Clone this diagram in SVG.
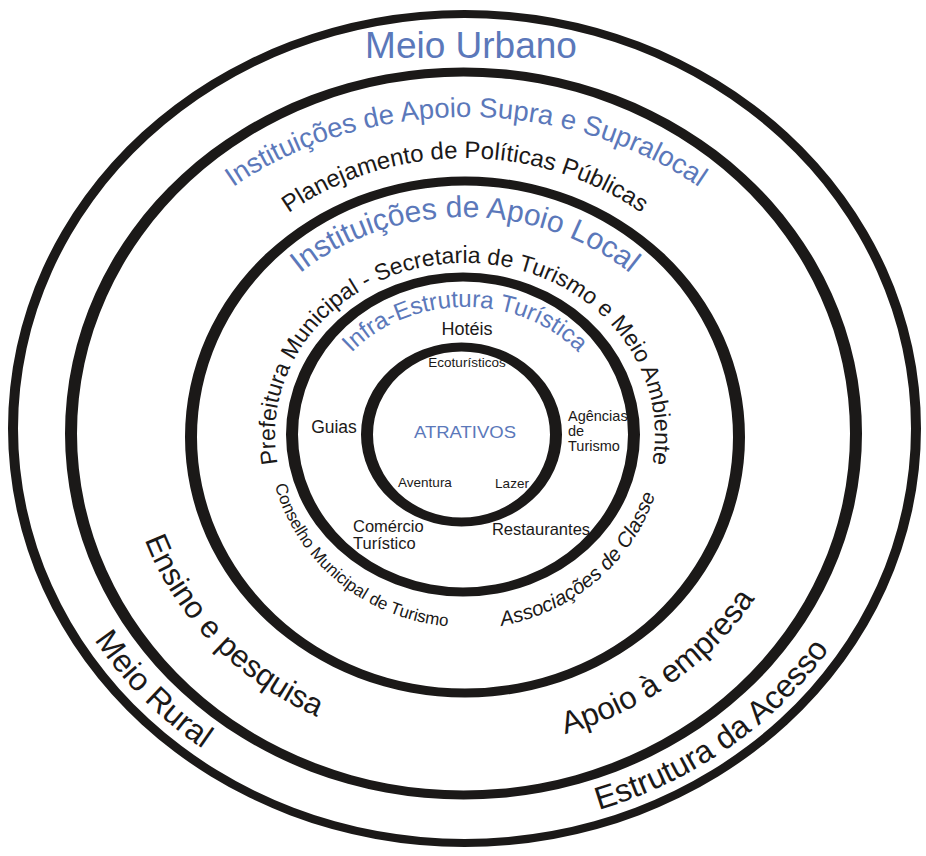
<svg xmlns="http://www.w3.org/2000/svg" width="926" height="856" viewBox="0 0 926 856">
<style>
.ring{fill:#1b1918;fill-rule:evenodd;stroke:none}
.t{font-family:"Liberation Sans",Arial,Helvetica,sans-serif}
.blue{fill:#5b78ba}
.blk{fill:#1b1918}
.it{font-style:italic}
</style>
<defs>
<path id="p-supra" d="M94,435 A372,318 0 0 1 838,435"/>
<path id="p-plan" d="M170,435 A295,277 0 0 1 760,435"/>
<path id="p-local" d="M219,435 A246,218 0 0 1 711,435"/>
<path id="p-pref" d="M286.5,493.8 A190,172 0 1 1 643.5,493.8"/>
<path id="p-infra" d="M317,435 A148,128 0 0 1 613,435"/>
<path id="p-cons" d="M268.7,451.7 A197,192 0 0 0 482.2,626.3"/>
<path id="p-assoc" d="M447.6,628.3 A200,194 0 0 0 664.9,441.8"/>
<path id="p-ensino" d="M128.3,478.6 A340,313 0 0 0 377,737.3"/>
<path id="p-apoio" d="M494.6,746.8 A340,313 0 0 0 787.3,534.8"/>
<path id="p-rural" d="M54.6,563.3 A434,394 0 0 0 278.2,790.6"/>
<path id="p-estr" d="M502.8,827.5 A434,394 0 0 0 875.4,563.3"/>
</defs>
<rect width="926" height="856" fill="#ffffff"/>

<g id="ring-meio">
<path class="ring" d="M8,428.5 A456.5,418.5 0 1 0 921,428.5 A456.5,418.5 0 1 0 8,428.5 Z M18,428.5 A446.5,410.5 0 1 0 911,428.5 A446.5,410.5 0 1 0 18,428.5 Z"/>
<text class="t blue" x="471" y="58" font-size="37" text-anchor="middle">Meio Urbano</text>
<text class="t blk" font-size="32"><textPath href="#p-rural" startOffset="50%" text-anchor="middle">Meio Rural</textPath></text>
<text class="t blk" font-size="32"><textPath href="#p-estr" startOffset="50%" text-anchor="middle">Estrutura da Acesso</textPath></text>
</g>

<g id="ring-supralocal">
<path class="ring" d="M65,433.5 A398.5,366 0 1 0 862,433.5 A398.5,366 0 1 0 65,433.5 Z M77,433.5 A386.5,357 0 1 0 850,433.5 A386.5,357 0 1 0 77,433.5 Z"/>
<text class="t blue" font-size="27.5"><textPath href="#p-supra" startOffset="50%" text-anchor="middle">Instituições de Apoio Supra e Supralocal</textPath></text>
<text class="t blk" font-size="24"><textPath href="#p-plan" startOffset="50%" text-anchor="middle">Planejamento de Políticas Públicas</textPath></text>
<text class="t blk" font-size="31"><textPath href="#p-ensino" startOffset="50%" text-anchor="middle">Ensino e pesquisa</textPath></text>
<text class="t blk" font-size="31.5"><textPath href="#p-apoio" startOffset="50%" text-anchor="middle">Apoio à empresa</textPath></text>
</g>

<g id="ring-local">
<path class="ring" d="M185,437 A280,260.5 0 1 0 745,437 A280,260.5 0 1 0 185,437 Z M197,437 A268,251.5 0 1 0 733,437 A268,251.5 0 1 0 197,437 Z"/>
<text class="t blue" font-size="30"><textPath href="#p-local" startOffset="50%" text-anchor="middle">Instituições de Apoio Local</textPath></text>
<text class="t blk" font-size="23"><textPath href="#p-pref" startOffset="50%" text-anchor="middle">Prefeitura Municipal - Secretaria de Turismo e Meio Ambiente</textPath></text>
<text class="t blk" font-size="17"><textPath href="#p-cons" startOffset="50%" text-anchor="middle">Conselho Municipal de Turismo</textPath></text>
<text class="t blk it" font-size="20.5"><textPath href="#p-assoc" startOffset="50%" text-anchor="middle">Associações de Classe</textPath></text>
</g>

<g id="ring-infra">
<path class="ring" d="M286,434.5 A177,162 0 1 0 640,434.5 A177,162 0 1 0 286,434.5 Z M298,434.5 A165,153 0 1 0 628,434.5 A165,153 0 1 0 298,434.5 Z"/>
<text class="t blue" font-size="24"><textPath href="#p-infra" startOffset="50%" text-anchor="middle">Infra-Estrutura Turística</textPath></text>
<text class="t blk" x="467" y="335" font-size="18" text-anchor="middle">Hotéis</text>
<text class="t blk" x="334" y="433" font-size="17.5" text-anchor="middle">Guias</text>
<text class="t blk" font-size="14.5"><tspan x="568" y="421">Agências</tspan><tspan x="568" y="436">de</tspan><tspan x="568" y="451">Turismo</tspan></text>
<text class="t blk" font-size="16.5"><tspan x="353" y="532">Comércio</tspan><tspan x="353" y="549">Turístico</tspan></text>
<text class="t blk" x="541" y="535" font-size="16.5" text-anchor="middle">Restaurantes</text>
</g>

<g id="ring-atrativos">
<path class="ring" d="M361,434.5 A100.5,92 0 1 0 562,434.5 A100.5,92 0 1 0 361,434.5 Z M373,434.5 A88.5,83 0 1 0 550,434.5 A88.5,83 0 1 0 373,434.5 Z"/>
<text class="t blk" x="467" y="367" font-size="13.5" text-anchor="middle">Ecoturísticos</text>
<text class="t blue" x="465" y="438" font-size="16" text-anchor="middle" textLength="102" lengthAdjust="spacingAndGlyphs">ATRATIVOS</text>
<text class="t blk" x="425" y="487" font-size="13.5" text-anchor="middle">Aventura</text>
<text class="t blk" x="512" y="488" font-size="13.5" text-anchor="middle">Lazer</text>
</g>
</svg>
